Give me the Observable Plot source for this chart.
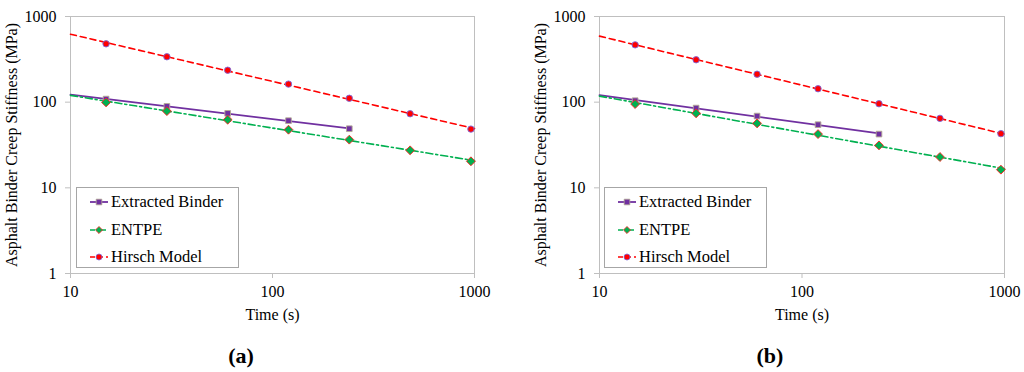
<!DOCTYPE html>
<html><head><meta charset="utf-8">
<script src="https://cdn.jsdelivr.net/npm/d3@7"></script>
<script src="https://cdn.jsdelivr.net/npm/@observablehq/plot@0.6"></script>
<style>
body{margin:0;background:#fff;font-family:"Liberation Serif","Times New Roman",serif}
#wrap{position:relative;width:1024px;height:372px;overflow:hidden;background:#fff}
.panel{position:absolute;top:0;width:512px;height:330px}
.cap{position:absolute;top:345px;width:100px;text-align:center;font-weight:bold;font-size:22px;line-height:22px;color:#000}
.legend{position:absolute;top:187px;width:163px;height:81px;border:1px solid #a6a6a6;background:#fff;box-sizing:border-box;font-size:16.5px;color:#000}
.legend .row{position:absolute;left:12px;height:20px;display:flex;align-items:center;white-space:nowrap}
.legend svg{margin-right:2px}
</style></head>
<body><div id="wrap"></div>
<script>
// ---- data ----
const times = [15, 30, 60, 120, 240, 480, 960];
const seriesNames = ["Extracted Binder", "ENTPE", "Hirsch Model"];
const extractedA = [108.6, 89.3, 74, 60.8, 49];
const entpeA = [99.3, 78.6, 62.4, 47.7, 36.5, 27.4, 20.4];
const hirschA = [480, 339, 236, 162.5, 111, 73.3, 48.5];
const extractedB = [104, 85.3, 68.8, 54.6, 42.4];
const entpeB = [95, 74, 56.5, 42.4, 31.3, 22.9, 16.3];
const hirschB = [467, 312.6, 212, 143.5, 95.9, 64.7, 42.9];
const xTicks = [10, 100, 1000];
const yTicks = [1, 10, 100, 1000];
const panelLabels = ["(a)", "(b)"];
const xLabel = "Time (s)";
const yLabel = "Asphalt Binder Creep Stiffness (MPa)";

const FONT = "'Liberation Serif', 'Times New Roman', serif";

// ---- styles ----
const styles = [
  {color: "#7030A0", dash: null, width: 1.8, symbol: "square", r: 3.2, fill: "#7030A0", mstroke: "#b4ac94"},
  {color: "#00B050", dash: "7,3,2,3", width: 1.6, symbol: "diamond2", r: 4, fill: "#00B050", mstroke: "#ff2020"},
  {color: "#FF0000", dash: "6,4", width: 1.6, symbol: "circle", r: 3.2, fill: "#FF0000", mstroke: "#7a6ae0"}
];

// power-law trend line (least squares in log-log) over [10, xEnd]
function trend(xs, ys, xEnd) {
  const lx = xs.map(Math.log10), ly = ys.map(Math.log10);
  const n = lx.length, mx = d3.mean(lx), my = d3.mean(ly);
  let sxy = 0, sxx = 0;
  for (let i = 0; i < n; i++) { sxy += (lx[i]-mx)*(ly[i]-my); sxx += (lx[i]-mx)**2; }
  const b = sxy / sxx, a = my - b * mx;
  return [xTicks[0], xEnd].map(x => ({x, y: Math.pow(10, a + b * Math.log10(x))}));
}

function panel(series, marginLeft, marginRight) {
  const marks = [
    Plot.frame({stroke: "#bfbfbf"}),
    Plot.axisX({ticks: xTicks, tickFormat: d => String(d), tickSize: 5, tickPadding: 7,
      stroke: "#bfbfbf", fill: "#000", label: xLabel, labelAnchor: "center", labelOffset: 46, labelArrow: "none"}),
    Plot.axisY({ticks: yTicks, tickFormat: d => String(d), tickSize: 5, tickPadding: 9,
      stroke: "#bfbfbf", fill: "#000", label: yLabel, labelAnchor: "center", labelOffset: 65, labelArrow: "none"})
  ];
  series.forEach((ys, i) => {
    const s = styles[i];
    const xs = times.slice(0, ys.length);
    const xEnd = i === 0 ? xs[xs.length - 1] : xTicks[xTicks.length - 1];
    marks.push(Plot.line(trend(xs, ys, xEnd), {x: "x", y: "y", stroke: s.color, strokeWidth: s.width,
      strokeDasharray: s.dash || undefined}));
  });
  series.forEach((ys, i) => {
    const s = styles[i];
    const pts = ys.map((y, j) => ({x: times[j], y}));
    marks.push(Plot.dot(pts, {x: "x", y: "y", symbol: () => s.symbol, r: s.r, fill: s.fill, stroke: s.mstroke, strokeWidth: 0.9}));
  });
  const svg = Plot.plot({
    width: 512, height: 330, marginLeft, marginRight, marginTop: 16, marginBottom: 57,
    style: {fontFamily: FONT, fontSize: "16px", color: "#000", background: "transparent", overflow: "visible"},
    x: {type: "log", domain: [10, 1000]},
    y: {type: "log", domain: [1, 1000]},
    symbol: {type: "identity"},
    marks
  });
  svg.setAttribute("font-family", FONT);
  return svg;
}

function legend(left) {
  const div = document.createElement("div");
  div.className = "legend";
  div.style.left = left + "px";
  div.style.fontFamily = FONT;
  seriesNames.forEach((name, i) => {
    const s = styles[i];
    const row = document.createElement("div");
    row.className = "row";
    row.style.top = (4 + i * 27.5) + "px";
    const svg = d3.create("svg").attr("width", 20).attr("height", 12);
    svg.append("line").attr("x1", 1).attr("x2", 19).attr("y1", 6).attr("y2", 6)
      .attr("stroke", s.color).attr("stroke-width", s.width).attr("stroke-dasharray", s.dash ? (i === 1 ? "5,2,2,2" : "5,3") : null);
    const sym = d3.symbol().type(s.symbol === "square" ? d3.symbolSquare : s.symbol === "diamond2" ? d3.symbolDiamond2 : d3.symbolCircle)
      .size(s.symbol === "circle" ? Math.PI * 9 : 32);
    svg.append("path").attr("d", sym()).attr("transform", "translate(10,6)")
      .attr("fill", s.fill).attr("stroke", s.mstroke).attr("stroke-width", 0.8);
    row.appendChild(svg.node());
    const t = document.createElement("span");
    t.textContent = name;
    row.appendChild(t);
    div.appendChild(row);
  });
  return div;
}

const wrap = document.getElementById("wrap");
const configs = [
  {data: [extractedA, entpeA, hirschA], left: 0, ml: 70, mr: 38, legend: 76, cap: 241},
  {data: [extractedB, entpeB, hirschB], left: 512, ml: 87, mr: 20, legend: 604, cap: 770}
];
configs.forEach((c, k) => {
  const p = document.createElement("div");
  p.className = "panel";
  p.style.left = c.left + "px";
  p.appendChild(panel(c.data, c.ml, c.mr));
  wrap.appendChild(p);
  wrap.appendChild(legend(c.legend));
  const cap = document.createElement("div");
  cap.className = "cap";
  cap.style.left = (c.cap - 50) + "px";
  cap.textContent = panelLabels[k];
  wrap.appendChild(cap);
});
</script></body></html>
